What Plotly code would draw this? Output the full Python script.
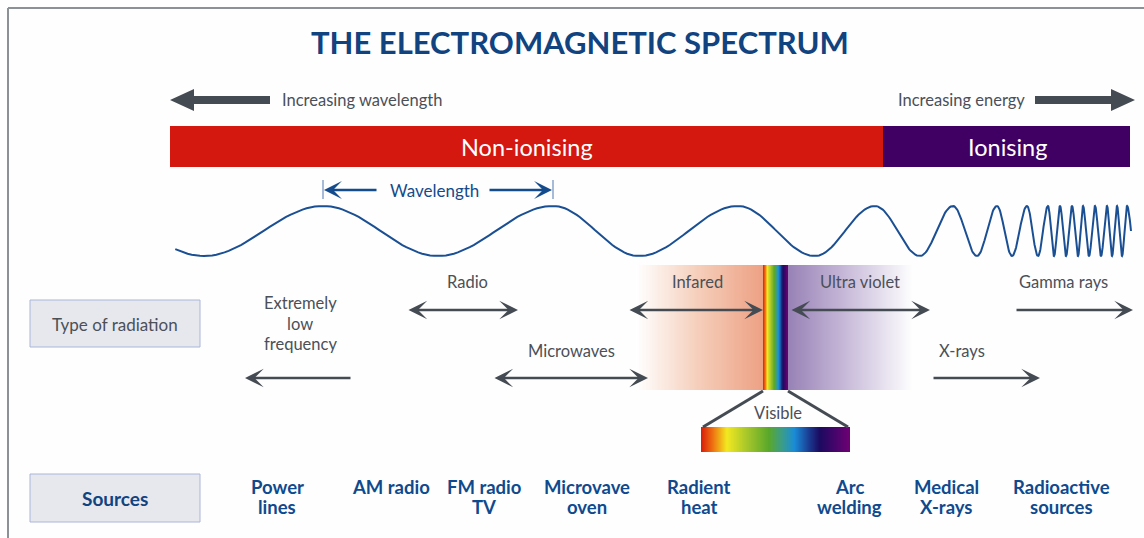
import numpy as np
import plotly.graph_objects as go

# ---------------- data (labels) ----------------
title_text = "THE ELECTROMAGNETIC SPECTRUM"
direction_labels = ["Increasing wavelength", "Increasing energy"]
band_labels = ["Non-ionising", "Ionising"]
radiation_types = ["Extremely<br>low<br>frequency", "Radio", "Microwaves", "Infared",
                   "Ultra violet", "X-rays", "Gamma rays"]
radiation_arrow_kind = ["left", "both", "both", "both", "both", "right", "right"]
sources = ["Power<br>lines", "AM radio", "FM radio<br>TV", "Microvave<br>oven",
           "Radient<br>heat", "Arc<br>welding", "Medical<br>X-rays", "Radioactive<br>sources"]
row_labels = ["Type of radiation", "Sources"]
# wave extrema (trough, crest, trough, ...)
wave_extrema = [204, 323, 438, 553, 639, 738, 815, 875, 920, 953, 977, 997, 1012, 1027,
                1038, 1048, 1054, 1060, 1066, 1072, 1078, 1083, 1089, 1095, 1101, 1107,
                1112, 1117, 1122, 1127]

# ---------------- layout geometry (pixel space) ----------------
W, H = 1144, 538
FONT = "Lato"
NAVY = "#10437f"
GRAY = "#4b5058"
ARROW = "#454b53"

type_pos = [  # (label x, first-line y, arrow x1, arrow x2, arrow y)
    (300, 303, 352, 245, 378),
    (467, 282, 407, 518, 310),
    (571, 351, 493, 648, 378),
    (697, 282, 628, 763, 310),
    (860, 282, 790, 930, 310),
    (962, 351, 932, 1040, 378),
    (1063, 282, 1015, 1133, 310),
]
source_x = [277, 391, 484, 587, 699, 849, 946, 1061]

fig = go.Figure()
shapes = []
ann = []

def multiline(text, x, y0, step, font):
    for k, line in enumerate(text.split("<br>")):
        ann.append(dict(x=x, y=y0 + k * step, text=line, showarrow=False, font=font))

# frame
shapes.append(dict(type="line", x0=8, x1=W, y0=8, y1=8, line=dict(color="#8c9198", width=2)))
shapes.append(dict(type="line", x0=8, x1=8, y0=8, y1=H, line=dict(color="#8c9198", width=2)))

# title
ann.append(dict(x=580, y=42, text=f"<b>{title_text}</b>", showarrow=False,
                font=dict(family=FONT, size=31, color=NAVY)))

# top direction arrows (filled polygons)
def big_arrow(tip, tail, y, direction):
    s = direction
    hb = tip + s * 24
    return (f"M{tip},{y} L{hb},{y-11} L{hb},{y-4} L{tail},{y-4} L{tail},{y+4} "
            f"L{hb},{y+4} L{hb},{y+11} Z")
shapes.append(dict(type="path", path=big_arrow(170, 270, 100, 1), fillcolor=ARROW,
                   line=dict(width=0)))
shapes.append(dict(type="path", path=big_arrow(1135, 1035, 100, -1), fillcolor=ARROW,
                   line=dict(width=0)))
ann.append(dict(x=280, y=100, text=direction_labels[0], showarrow=False, xanchor="left",
                font=dict(family=FONT, size=16.5, color=GRAY)))
ann.append(dict(x=1027, y=100, text=direction_labels[1], showarrow=False, xanchor="right",
                font=dict(family=FONT, size=16.5, color=GRAY)))

# ionising bars
shapes.append(dict(type="rect", x0=170, x1=883, y0=126, y1=167, fillcolor="#d4170f",
                   line=dict(width=0), layer="below"))
shapes.append(dict(type="rect", x0=883, x1=1130, y0=126, y1=167, fillcolor="#400063",
                   line=dict(width=0), layer="below"))
ann.append(dict(x=527, y=147, text=band_labels[0], showarrow=False,
                font=dict(family=FONT, size=23.5, color="white")))
ann.append(dict(x=1007, y=147, text=band_labels[1], showarrow=False,
                font=dict(family=FONT, size=23.5, color="white")))

# wave
cy, A = 231, 25
xs, ys = [], []
prev = wave_extrema[0] - (wave_extrema[1] - wave_extrema[0])
seq = [prev] + wave_extrema
for i in range(len(seq) - 1):
    a, b = seq[i], seq[i + 1]
    t = np.linspace(0, 1, 30)
    x = a + (b - a) * t
    sign = -1 if i % 2 == 0 else 1  # first segment starts at crest
    y = cy + sign * A * np.cos(np.pi * t)
    m = x >= 173
    xs.extend(x[m]); ys.extend(y[m])
t = np.linspace(0, 0.5, 8)
last = wave_extrema[-1]
xs.extend(last + 8 * t); ys.extend(cy - A * np.cos(np.pi * t))
fig.add_trace(go.Scatter(x=xs, y=ys, mode="lines", line=dict(color="#1b4f93", width=2),
                         hoverinfo="skip", showlegend=False))

# wavelength marker
for xv in (323, 553):
    shapes.append(dict(type="line", x0=xv, x1=xv, y0=180, y1=199,
                       line=dict(color="#8aa4cc", width=1.5)))
ann.append(dict(x=434, y=190, text="Wavelength", showarrow=False,
                font=dict(family=FONT, size=17, color="#134b8c")))
for x1, x2 in ((378, 324), (488, 552)):
    ann.append(dict(x=x2, y=190, ax=x1, ay=190, axref="x", ayref="y", xref="x", yref="y",
                    text="", showarrow=True, arrowhead=3, arrowsize=1.15, arrowwidth=2.6,
                    arrowcolor="#134b8c", standoff=0))

# gradients via heatmaps
def grad(x0, x1, y0, y1, colorscale, n=120):
    xe = np.linspace(x0, x1, n + 1)
    z = np.linspace(0, 1, n)[None, :]
    fig.add_trace(go.Heatmap(x=xe, y=[y0, y1], z=z, colorscale=colorscale, zmin=0, zmax=1,
                             showscale=False, hoverinfo="skip", zsmooth=False))

grad(636, 763, 265, 390, [[0, "rgba(255,255,255,1)"], [0.5, "#f5cdb9"], [1, "#eda184"]])
grad(788, 912, 265, 390, [[0, "#9882b6"], [0.45, "#c6b8d8"], [1, "#fdfdfe"]])
rainbow = [[0, "#d8200c"], [0.07, "#ee6a10"], [0.17, "#f2e820"], [0.3, "#a9c82a"],
           [0.45, "#5aa82a"], [0.55, "#3a9c8c"], [0.63, "#1a8cd8"], [0.73, "#1a3a90"],
           [0.8, "#1c0a60"], [1, "#6e0074"]]
grad(763, 788, 265, 390, rainbow, n=60)
grad(701, 850, 427, 452, rainbow, n=150)

# visible trapezoid
shapes.append(dict(type="line", x0=763, y0=391, x1=703, y1=427, line=dict(color=ARROW, width=3)))
shapes.append(dict(type="line", x0=788, y0=391, x1=848, y1=427, line=dict(color=ARROW, width=3)))
ann.append(dict(x=778, y=413, text="Visible", showarrow=False,
                font=dict(family=FONT, size=16.5, color=GRAY)))

# row boxes
for y0, y1 in ((300, 347), (474, 522)):
    shapes.append(dict(type="rect", x0=30, x1=200, y0=y0, y1=y1, fillcolor="#e6e8ee",
                       line=dict(color="#a9b6da", width=1)))
ann.append(dict(x=115, y=324, text=row_labels[0], showarrow=False,
                font=dict(family=FONT, size=17, color=GRAY)))
ann.append(dict(x=115, y=498, text=f"<b>{row_labels[1]}</b>", showarrow=False,
                font=dict(family=FONT, size=19, color=NAVY)))

# radiation types
for lab, kind, (lx, ly, x1, x2, ay) in zip(radiation_types, radiation_arrow_kind, type_pos):
    multiline(lab, lx, ly, 20.5, dict(family=FONT, size=16.5, color=GRAY))
    ann.append(dict(x=x2, y=ay, ax=x1, ay=ay, axref="x", ayref="y", xref="x", yref="y",
                    text="", showarrow=True, arrowhead=3, arrowsize=1.2, arrowwidth=2.6,
                    arrowcolor=ARROW, standoff=0,
                    arrowside="end+start" if kind == "both" else "end"))

# sources
for lab, sx in zip(sources, source_x):
    multiline("<br>".join(f"<b>{p}</b>" for p in lab.split("<br>")), sx, 487, 20,
              dict(family=FONT, size=18.5, color="#0f4a8e"))

for a in ann:
    a.setdefault("xref", "x")
    a.setdefault("yref", "y")

fig.update_layout(
    width=W, height=H, margin=dict(l=0, r=0, t=0, b=0),
    paper_bgcolor="#fefefe", plot_bgcolor="#fefefe",
    xaxis=dict(range=[0, W], visible=False, fixedrange=True),
    yaxis=dict(range=[H, 0], visible=False, fixedrange=True),
    shapes=shapes, annotations=ann, showlegend=False,
)
fig.write_html("out.html", config={"displayModeBar": False},
               post_script="document.body.style.margin='0';")
